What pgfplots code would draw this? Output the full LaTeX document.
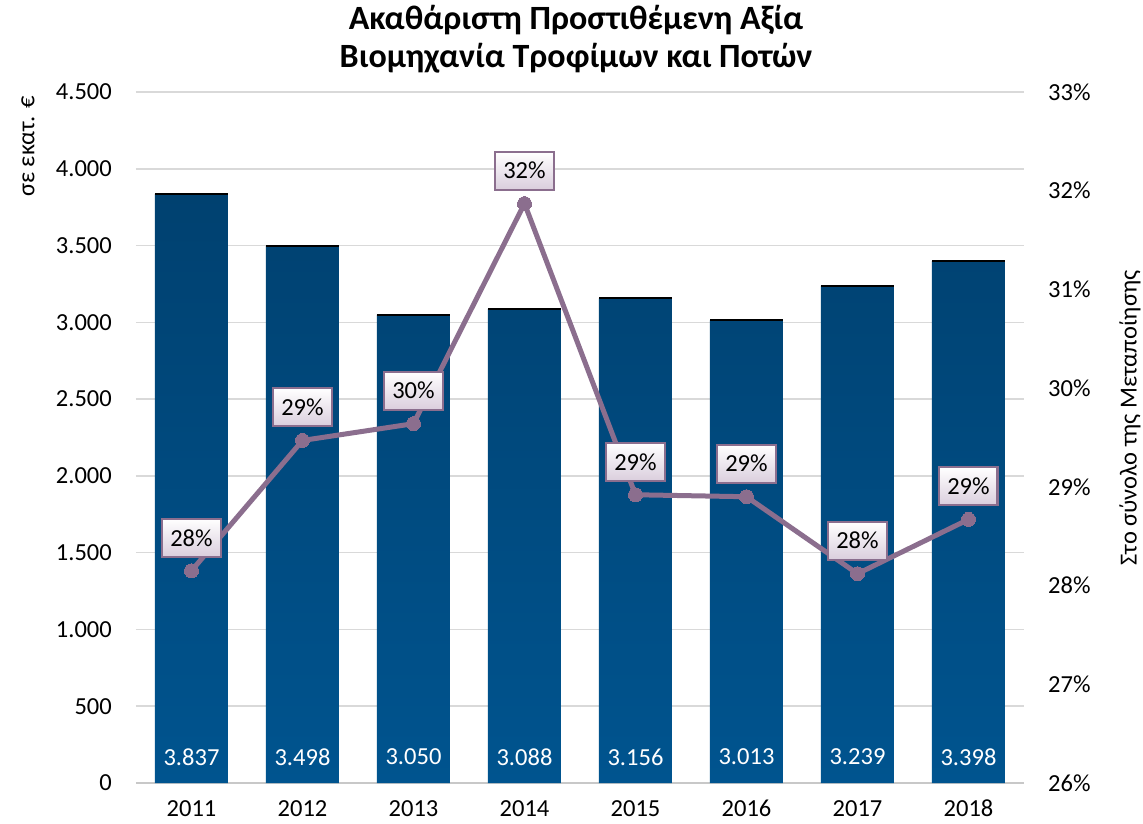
\documentclass[border=0pt]{standalone}
\usepackage{fontspec}
\setmainfont{Carlito}
\usepackage{pgfplots}
\pgfplotsset{compat=1.18}
\definecolor{barTop}{RGB}{0,65,112}
\definecolor{barBot}{RGB}{0,84,143}
\definecolor{lineC}{RGB}{139,110,142}
\definecolor{boxBot}{RGB}{218,206,221}
\definecolor{gridC}{RGB}{217,217,217}
\definecolor{axC}{RGB}{200,200,200}
\newcommand{\tf}{\fontsize{24.5pt}{29pt}\selectfont}
\begin{document}
\begin{tikzpicture}[font=\tf]
\useasboundingbox (-136pt,-40pt) rectangle (1007pt,783pt);
\begin{axis}[
  at={(0pt,0pt)}, anchor=south west,
  scale only axis, width=888pt, height=691pt,
  xmin=-0.5, xmax=7.5, ymin=0, ymax=4500,
  xtick={0,...,7},
  xticklabels={2011,2012,2013,2014,2015,2016,2017,2018},
  ytick={0,500,...,4500},
  yticklabels={0,500,1.000,1.500,2.000,2.500,3.000,3.500,4.000,4.500},
  ymajorgrids, grid style={gridC, line width=1.5pt},
  axis lines*=left,
  y axis line style={draw=none},
  x axis line style={axC, line width=1.8pt},
  major tick length=0pt,
  tick label style={font=\tf, inner sep=0pt},
  yticklabel style={anchor=east, xshift=-24pt},
  xticklabel style={anchor=north, yshift=-17pt},
  clip=false,
]
\addplot[ybar, bar width=73pt, draw=none, top color=barTop, bottom color=barBot]
  coordinates {(0,3837) (1,3498) (2,3050) (3,3088) (4,3156) (5,3013) (6,3239) (7,3398)};
\addplot[only marks, mark=-, mark size=36.5pt, mark options={black, line width=2pt}]
  coordinates {(0,3837) (1,3498) (2,3050) (3,3088) (4,3156) (5,3013) (6,3239) (7,3398)};
\addplot[draw=none, mark=none, nodes near coords, point meta=explicit symbolic,
  every node near coord/.style={anchor=center, text=white, inner sep=0pt, font=\tf}]
  coordinates {(0,169)[3.837] (1,169)[3.498] (2,169)[3.050] (3,169)[3.088]
               (4,169)[3.156] (5,169)[3.013] (6,169)[3.239] (7,169)[3.398]};
\end{axis}
\begin{axis}[
  at={(0pt,0pt)}, anchor=south west,
  scale only axis, width=888pt, height=691pt,
  xmin=-0.5, xmax=7.5, ymin=26, ymax=33,
  axis x line=none,
  axis y line*=right,
  y axis line style={draw=none},
  major tick length=0pt,
  ytick={26,...,33},
  yticklabels={26\%,27\%,28\%,29\%,30\%,31\%,32\%,33\%},
  tick label style={font=\tf, inner sep=0pt},
  yticklabel style={anchor=west, xshift=24pt},
  clip=false,
]
\addplot[lineC, line width=5pt, mark=*, mark size=7pt, mark options={fill=lineC, draw=lineC, line width=0pt},
  nodes near coords, point meta=explicit symbolic,
  every node near coord/.style={anchor=center, yshift=33pt, draw=lineC, line width=2pt,
    shading=axis, top color=white, bottom color=boxBot, text=black,
    minimum width=58pt, minimum height=38pt, inner sep=0pt, font=\tf}]
  coordinates {(0,28.15)[28\%] (1,29.47)[29\%] (2,29.64)[30\%] (3,31.87)[32\%]
               (4,28.92)[29\%] (5,28.90)[29\%] (6,28.12)[28\%] (7,28.67)[29\%]};
\end{axis}
\node[rotate=90, anchor=east, inner sep=0pt] at (-108pt,687pt) {σε εκατ. €};
\node[rotate=90, anchor=center, inner sep=0pt] at (994pt,365pt) {Στο σύνολο της Μεταποίησης};
\node[align=center, font=\fontsize{34pt}{38pt}\selectfont\bfseries, inner sep=0pt] at (440pt,744pt)
  {Ακαθάριστη Προστιθέμενη Αξία\\Βιομηχανία Τροφίμων και Ποτών};
\end{tikzpicture}
\end{document}
